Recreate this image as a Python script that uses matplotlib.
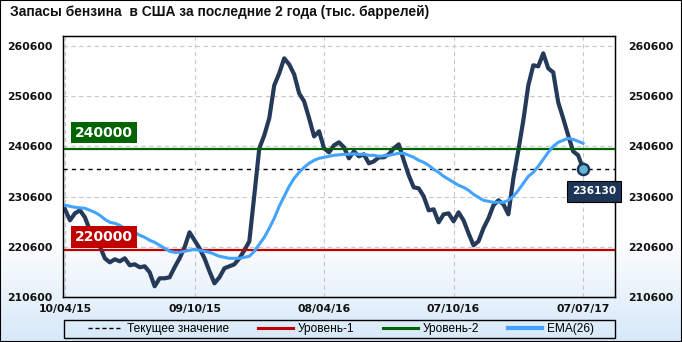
import numpy as np
import matplotlib.pyplot as plt
from matplotlib.patches import Rectangle
from matplotlib.lines import Line2D

# Подписи оси X и их позиции (номер недели)
tick_labels = ['10/04/15', '09/10/15', '08/04/16', '07/10/16', '07/07/17']
tick_index = [0, 26, 52, 78, 104]

# Запасы бензина, тыс. баррелей (понедельно)
zapasy = [
    228070, 225880, 227270, 227870, 226480, 223890, 221900, 220700, 218310, 217510,
    218110, 217710, 218310, 216920, 217110, 216520, 216720, 215520, 212730, 214330,
    214330, 214520, 216520, 218310, 220500, 223490, 221900, 220300, 218310, 215720,
    213330, 214520, 216320, 216720, 217110, 218310, 219900, 221700, 230860, 240220,
    242810, 246200, 252770, 255160, 258150, 256950, 254960, 251180, 249580, 246200,
    242610, 243610, 240220, 239420, 240820, 241420, 240420, 238230, 239620, 238630,
    239030, 237230, 237630, 238430, 238430, 239030, 240220, 241020, 237830, 234840,
    232450, 232250, 230660, 227870, 228070, 225480, 227070, 227270, 225680, 227470,
    225880, 223290, 220900, 221700, 224290, 226280, 228870, 229860, 229070, 227070,
    234250, 239820, 245800, 252770, 256760, 256560, 259150, 256160, 255360, 249380,
    246200, 242810, 239620, 238830, 236130]

# EMA(26)
ema26 = [
    228870, 228670, 228470, 228370, 228270, 227870, 227470, 226880, 226080, 225480,
    225280, 224880, 224290, 223890, 223490, 222890, 222490, 221900, 221500, 220900,
    220300, 219700, 219500, 219500, 219700, 219900, 220100, 219900, 219700, 219500,
    219110, 218710, 218510, 218310, 218310, 218310, 218510, 218710, 219700, 221100,
    222490, 224290, 226280, 228670, 230660, 232650, 234250, 235440, 236440, 237230,
    237830, 238230, 238430, 238630, 238830, 238930, 239030, 239030, 239130, 239030,
    239030, 238830, 238830, 238630, 238730, 238830, 239030, 239230, 239230, 238830,
    238430, 237830, 237430, 236840, 236040, 235440, 234640, 234050, 233450, 232850,
    232450, 231860, 231060, 230460, 229860, 229660, 229470, 229470, 229470, 229860,
    230660, 231860, 233250, 234640, 235440, 236640, 238030, 239420, 240620, 241420,
    241820, 242210, 242010, 241620, 241220]

uroven_1 = 220000
uroven_2 = 240000
tekushchee = 236130
y_ticks = [210600, 220600, 230600, 240600, 250600, 260600]

W, H = 682, 342
fig = plt.figure(figsize=(W / 100, H / 100), dpi=100)

# Фон: белый сверху, голубой снизу
bg = fig.add_axes([0, 0, 1, 1], zorder=-10)
t = np.clip((np.arange(H) - 235) / (H - 235), 0, 1)[:, None]
top = np.array([1.0, 1.0, 1.0])
bottom = np.array([0.84, 0.91, 0.975])
grad = top * (1 - t) + bottom * t
grad = np.repeat(grad[:, None, :], 2, axis=1)
bg.imshow(grad, aspect='auto', extent=[0, 1, 0, 1])
bg.axis('off')

ax = fig.add_axes([63 / W, 1 - 297 / H, (615 - 63) / W, (297 - 36) / H])
ax.set_facecolor('none')

x = np.arange(len(zapasy))
ax.axhline(tekushchee, color='black', lw=1, dashes=(3, 3), zorder=2)
ax.plot(x, zapasy, color='#253a58', lw=3, zorder=3, solid_joinstyle='round')
ax.axhline(uroven_1, color='#c00000', lw=1.6, zorder=3.5)
ax.axhline(uroven_2, color='#006400', lw=1.6, zorder=3.5)
ax.plot(x, ema26, color='#42a4ff', lw=2.2, zorder=4)
ax.plot(x[-1], zapasy[-1], 'o', ms=8, mfc='#66b4d8', mec='#1d3558', mew=1.8, zorder=6)

ax.set_xlim(-0.4, 110.4)
ax.set_ylim(210600, 262600)
ax.set_yticks(y_ticks)
ax.set_yticklabels([str(v) for v in y_ticks], fontweight='bold')
ax.set_xticks(tick_index)
ax.set_xticklabels(tick_labels, fontweight='bold')
ax.grid(True, color='#c8c8c8', lw=0.8, ls=(0, (4, 3)), zorder=1)
ax.tick_params(axis='both', length=0, labelsize=7.8, colors='#111111')
ax.tick_params(axis='y', pad=7.9)
ax.tick_params(axis='x', pad=5)
for s in ax.spines.values():
    s.set_color('black')
    s.set_linewidth(1)

ax2 = ax.twinx()
ax2.set_ylim(ax.get_ylim())
ax2.set_yticks(y_ticks)
ax2.set_yticklabels([str(v) for v in y_ticks], fontweight='bold')
ax2.tick_params(length=0, labelsize=7.8, pad=9.4, colors='#111111')

# Подписи уровней
ytr = ax.get_yaxis_transform()
ax.annotate(str(uroven_2), xy=(0, uroven_2), xycoords=ytr, xytext=(8.6, 7.1),
            textcoords='offset points', ha='left', va='bottom', color='white',
            fontsize=10, fontweight='bold', zorder=7,
            bbox=dict(boxstyle='square,pad=0.28', fc='#006400', ec='none'))
ax.annotate(str(uroven_1), xy=(0, uroven_1), xycoords=ytr, xytext=(8.6, 4.2),
            textcoords='offset points', ha='left', va='bottom', color='white',
            fontsize=10, fontweight='bold', zorder=7,
            bbox=dict(boxstyle='square,pad=0.28', fc='#c00000', ec='none'))
ann = ax2.annotate(str(tekushchee), xy=(x[-1], zapasy[-1]), xycoords=ax.transData,
                   xytext=(7.9, -16.2), textcoords='offset points', ha='center',
                   va='center', color='white', fontsize=7.6, fontweight='bold', zorder=8,
                   bbox=dict(boxstyle='square,pad=0.5', fc='#1d3557', ec='black', lw=0.8))

fig.text(10 / W, 1 - 12 / H, 'Запасы бензина  в США за последние 2 года (тыс. баррелей)',
         ha='left', va='center', fontsize=9.9, fontweight='bold',
         family=['Liberation Sans', 'DejaVu Sans'], color='#111111')

# Легенда
handles = [Line2D([], [], color='black', lw=1, dashes=(3, 2)),
           Line2D([], [], color='#c00000', lw=2.2),
           Line2D([], [], color='#006400', lw=2.2),
           Line2D([], [], color='#42a4ff', lw=3)]
labels = ['Текущее значение', 'Уровень-1', 'Уровень-2', 'EMA(26)']
fig.legend(handles, labels, loc='center', bbox_to_anchor=(341 / W, 1 - 329 / H),
           ncol=4, frameon=False, handlelength=2.9, handletextpad=0.42,
           columnspacing=2.4, prop={'family': ['Liberation Sans', 'DejaVu Sans'], 'size': 8.6})
fig.add_artist(Rectangle((64 / W, 1 - 338 / H), (615 - 64) / W, 18 / H,
                         transform=fig.transFigure, fill=False, ec='black', lw=1))
fig.add_artist(Rectangle((0, 0), 1, 1, transform=fig.transFigure, fill=False,
                         ec='black', lw=1.5))

fig.savefig('out.png', dpi=100)
